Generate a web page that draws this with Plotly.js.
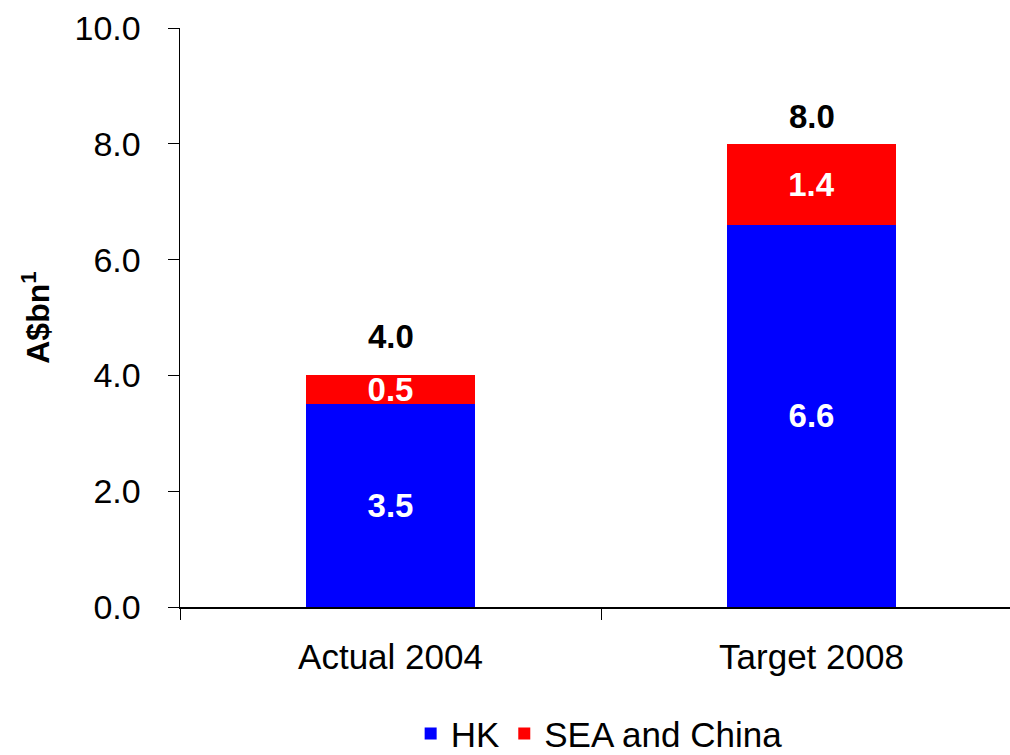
<!DOCTYPE html>
<html>
<head>
<meta charset="utf-8">
<script src="https://cdn.plot.ly/plotly-3.0.1.min.js"></script>
<style>html,body{margin:0;padding:0;background:#fff;}#chart{width:1010px;height:755px;}</style>
</head>
<body>
<div id="chart"></div>
<script>
var categories = ["Actual 2004", "Target 2008"];
var hkValues = [3.5, 6.6];
var seaValues = [0.5, 1.4];
var totals = [4.0, 8.0];
var seriesNames = ["HK", "SEA and China"];

var FONT = "Liberation Sans, Arial, sans-serif";

var traces = [
  {
    type: "bar", name: seriesNames[0], x: categories, y: hkValues,
    marker: {color: "#0000FF"}, width: 0.4,
    text: hkValues.map(function(v){return v.toFixed(1);}),
    textposition: "inside", insidetextanchor: "middle", constraintext: "none",
    textfont: {family: FONT, size: 33, color: "#FFFFFF", weight: "bold"},
    hoverinfo: "skip"
  },
  {
    type: "bar", name: seriesNames[1], x: categories, y: seaValues,
    marker: {color: "#FF0000"}, width: 0.4,
    text: seaValues.map(function(v){return v.toFixed(1);}),
    textposition: "inside", insidetextanchor: "middle", constraintext: "none",
    textfont: {family: FONT, size: 33, color: "#FFFFFF", weight: "bold"},
    hoverinfo: "skip"
  }
];

var totalShifts = [39, 27];
var annotations = totals.map(function(t, i){
  return {
    x: categories[i], y: t, xref: "x", yref: "y",
    text: "<b>" + t.toFixed(1) + "</b>", showarrow: false,
    yanchor: "middle", yshift: totalShifts[i],
    font: {family: FONT, size: 33, color: "#000000"}
  };
});

var layout = {
  width: 1010, height: 755,
  margin: {l: 180, r: 0, t: 28, b: 148, pad: 0, autoexpand: false},
  paper_bgcolor: "#FFFFFF", plot_bgcolor: "#FFFFFF",
  barmode: "stack",
  font: {family: FONT, size: 34, color: "#000000"},
  showlegend: true,
  legend: {
    orientation: "h", x: 0.505, xanchor: "center",
    yref: "container", y: 0.028, yanchor: "middle",
    font: {family: FONT, size: 35, color: "#000000"},
    traceorder: "normal", itemclick: false, itemdoubleclick: false
  },
  xaxis: {
    type: "category", range: [-0.5, 1.5 - 12/421],
    showline: true, linecolor: "#000000", linewidth: 1.5,
    ticks: "outside", tickson: "boundaries", ticklen: 11, tickcolor: "#000000", tickwidth: 1,
    ticklabelstandoff: 18,
    tickfont: {family: FONT, size: 35, color: "#000000"},
    showgrid: false, zeroline: false, fixedrange: true
  },
  yaxis: {
    range: [0, 10], dtick: 2, tick0: 0, tickformat: ".1f",
    showline: true, linecolor: "#000000", linewidth: 1.5,
    ticks: "outside", ticklen: 11, tickcolor: "#000000", tickwidth: 1,
    ticklabelstandoff: 20,
    tickfont: {family: FONT, size: 34, color: "#000000"},
    showgrid: false, zeroline: false, fixedrange: true,
    title: {text: "<b>A$bn<sup>1</sup></b>", standoff: 15, font: {family: FONT, size: 32, color: "#000000"}}
  },
  annotations: annotations
};

Plotly.newPlot("chart", traces, layout, {displayModeBar: false, staticPlot: true});
</script>
</body>
</html>
